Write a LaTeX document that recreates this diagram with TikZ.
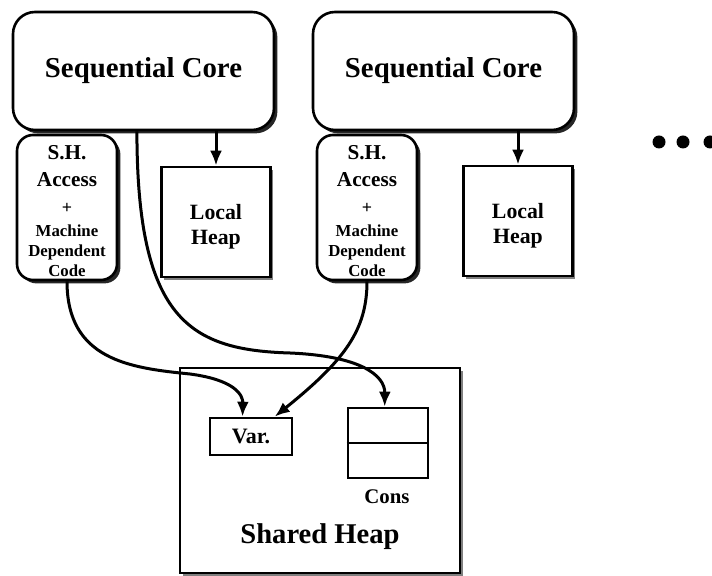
\documentclass[tikz,border=0pt]{standalone}
\usepackage{fontspec}
\setmainfont{Liberation Serif}
\usetikzlibrary{arrows.meta,calc,shadows}

\tikzset{
  box/.style={draw=black, line width=1.3pt, fill=white, inner sep=0pt, align=center, font=\bfseries},
  coreshadow/.style={drop shadow={shadow xshift=1.7pt, shadow yshift=-1.7pt, fill=black, opacity=0.85}},
  lightshadow/.style={drop shadow={shadow xshift=1.4pt, shadow yshift=-1.4pt, fill=black, opacity=0.5}},
  corebox/.style={box, coreshadow, rounded corners=11pt, minimum width=130.5pt, minimum height=59pt,
                  font=\fontsize{14.4}{17}\selectfont\bfseries},
  accessbox/.style={box, coreshadow, rounded corners=8pt, minimum width=50pt, minimum height=72.5pt,
                  font=\fontsize{8.4}{10}\selectfont\bfseries},
  heapbox/.style={box, lightshadow, minimum width=54.5pt, minimum height=55pt,
                  font=\fontsize{10.9}{12.5}\selectfont\bfseries},
  cellbox/.style={box, minimum width=41pt, minimum height=18.5pt, font=\fontsize{11}{13}\selectfont\bfseries},
  caption/.style={inner sep=0pt, font=\bfseries},
  arr/.style={line width=1.5pt, -{Latex[length=7.5pt,width=6pt]}},
  dot/.style={circle, fill=black, inner sep=0pt, minimum size=6.5pt}
}

% text of the shared-heap access box; the strut lowers the block a little
\newcommand{\accesstext}{%
  \fontsize{10.6}{13.5}\selectfont\rule{0pt}{11pt}S.H.\\[3.5pt]
  \fontsize{10.6}{13.5}\selectfont Access\\[3.5pt]
  \fontsize{9}{11}\selectfont +\\[1.5pt]
  Machine\\
  Dependent\\
  Code}
\newcommand{\heaptext}{\rule{0pt}{12pt}Local\\Heap}

\begin{document}
\begin{tikzpicture}[x=0.5pt, y=-0.5pt]
  \useasboundingbox[fill=white] (0,0) rectangle (712,576);

  % first processor
  \node[corebox]   (core1)  at (143.5,71)  {Sequential Core};
  \node[accessbox] (sh1)    at (67,207.5)  {\accesstext};
  \node[heapbox]   (local1) at (216,222)   {\heaptext};

  % second processor
  \node[corebox]   (core2)  at (443.5,71)  {Sequential Core};
  \node[accessbox] (sh2)    at (367,207.5) {\accesstext};
  \node[heapbox]   (local2) at (518,221)   {\heaptext};

  % more processors
  \node[dot] (dot1) at (659,142) {};
  \node[dot] (dot2) at (683,142) {};
  \node[dot] (dot3) at (710,142) {};

  % shared heap with a variable and a cons cell
  \node[box, lightshadow, minimum width=140pt, minimum height=102.5pt] (shared) at (320,470.5) {};
  \node[caption, font=\fontsize{14.3}{17}\selectfont\bfseries] (sharedtitle) at (320,537) {Shared Heap};
  \node[cellbox] (var) at (251,436.5) {Var.};
  \node[box, minimum width=40pt, minimum height=35pt] (cons) at (388,443) {};
  \draw[line width=1.3pt] (cons.west) -- (cons.east);
  \node[caption, font=\fontsize{10.4}{12}\selectfont\bfseries] (conslabel) at (387,497) {Cons};

  % attachment points of the connectors
  \coordinate (corefoot) at ($(core1.south west)!0.475!(core1.south east)$);
  \coordinate (consin)   at ($(cons.north west)!0.46!(cons.north east)$);
  \coordinate (varleft)  at ($(var.north west)!0.4!(var.north east)$);
  \coordinate (varright) at ($(var.north west)!0.78!(var.north east)$);

  % core to local heap
  \draw[arr] (local1.north |- core1.south) -- (local1.north);
  \draw[arr] (local2.north |- core2.south) -- (local2.north);

  % core to cons cell
  \draw[arr] (corefoot)
      .. controls (137,320) and (190,350) .. (290,353)
      .. controls (360,356) and (385,375) .. (consin);

  % shared-heap access to the variable
  \draw[arr] (sh1.south)
      .. controls (67,360) and (130,368) .. (190,374)
      .. controls (235,380) and (243,395) .. (varleft);
  \draw[arr] (sh2.south)
      .. controls (367,330) and (345,360) .. (varright);
\end{tikzpicture}
\end{document}
